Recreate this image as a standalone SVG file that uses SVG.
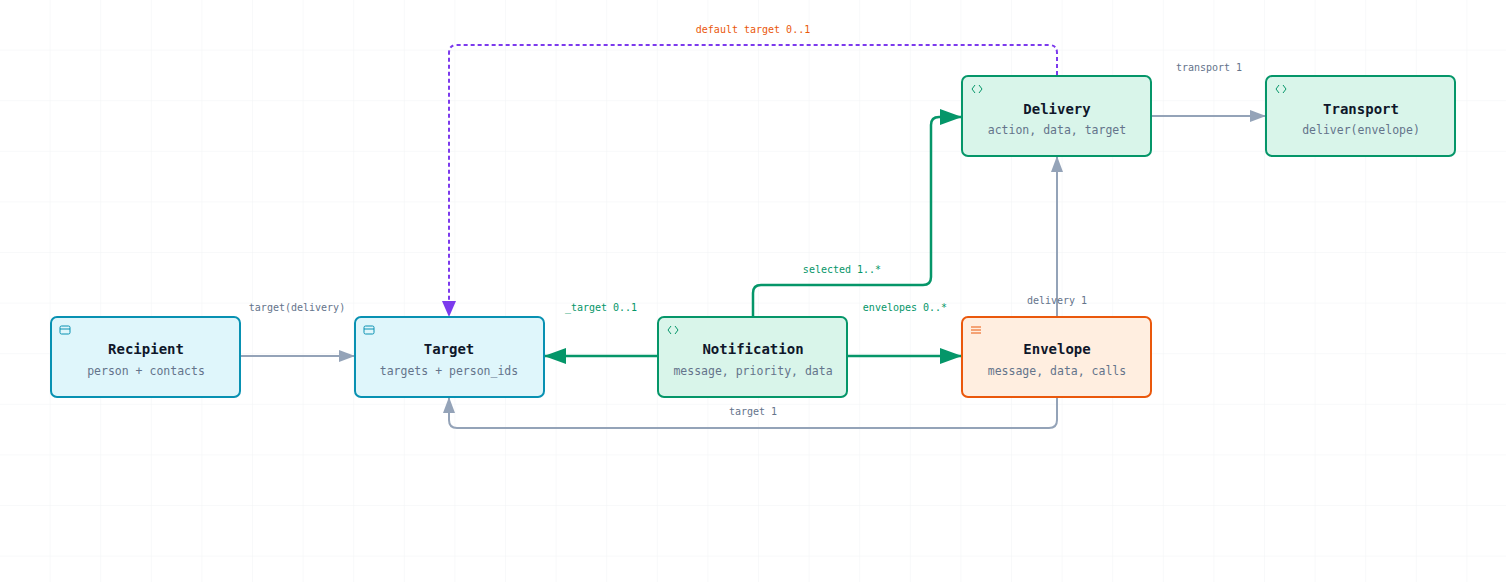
<svg xmlns="http://www.w3.org/2000/svg" width="1506" height="582" viewBox="0 0 1506 582">
<defs>
<pattern id="grid" width="50.6" height="50.6" patternUnits="userSpaceOnUse"><path d="M50.6 0V50.6M0 50.6H50.6" fill="none" stroke="#f1f3f5" stroke-width="1"/></pattern>
<marker id="ag" markerWidth="16" markerHeight="12" refX="15" refY="6" orient="auto" markerUnits="userSpaceOnUse"><path d="M0 0L16 6L0 12Z" fill="#94a3b8"/></marker>
<marker id="agr" markerWidth="22" markerHeight="16" refX="21" refY="8" orient="auto" markerUnits="userSpaceOnUse"><path d="M0 0L22 8L0 16Z" fill="#059669"/></marker>
<marker id="ap" markerWidth="16" markerHeight="14" refX="15" refY="7" orient="auto" markerUnits="userSpaceOnUse"><path d="M0 0L16 7L0 14Z" fill="#7c3aed"/></marker>
</defs>
<style>
.t{font-family:"DejaVu Sans Mono","Liberation Mono",monospace;font-weight:bold;font-size:14px;fill:#0f172a;text-anchor:middle}
.s{font-family:"DejaVu Sans Mono","Liberation Mono",monospace;font-size:11.5px;fill:#64748b;text-anchor:middle}
.l{font-family:"DejaVu Sans Mono","Liberation Mono",monospace;font-size:10px;fill:#64748b;text-anchor:middle}
.cy rect.b{fill:#dff6fb;stroke:#0891b2;stroke-width:2}
.gr rect.b{fill:#d9f5ea;stroke:#059669;stroke-width:2}
.or rect.b{fill:#ffeee0;stroke:#ea580c;stroke-width:2}
</style>
<rect width="1506" height="582" fill="#fff"/>
<rect width="1506" height="582" fill="url(#grid)"/>
<g id="connectors" fill="none">
<path d="M241 356H354" stroke="#94a3b8" stroke-width="2" marker-end="url(#ag)"/>
<path d="M658 356H545" stroke="#059669" stroke-width="2.5" marker-end="url(#agr)"/>
<path d="M848 356H961" stroke="#059669" stroke-width="2.5" marker-end="url(#agr)"/>
<path d="M753 316V293Q753 285 761 285H923Q931 285 931 277V125Q931 117 939 117H961" stroke="#059669" stroke-width="2.5" marker-end="url(#agr)"/>
<path d="M1057 316V157" stroke="#94a3b8" stroke-width="2" marker-end="url(#ag)"/>
<path d="M1152 116H1265" stroke="#94a3b8" stroke-width="2" marker-end="url(#ag)"/>
<path d="M1057 398V420Q1057 428 1049 428H457Q449 428 449 420V398" stroke="#94a3b8" stroke-width="2" marker-end="url(#ag)"/>
<path d="M1057 75V53Q1057 45 1049 45H457Q449 45 449 53V316" stroke="#7c3aed" stroke-width="2" stroke-dasharray="4 3" marker-end="url(#ap)"/>
<text class="l" x="297" y="311">target(delivery)</text>
<text class="l" x="601" y="311" style="fill:#059669">_target 0..1</text>
<text class="l" x="905" y="311" style="fill:#059669">envelopes 0..*</text>
<text class="l" x="842" y="273" style="fill:#059669">selected 1..*</text>
<text class="l" x="1057" y="304">delivery 1</text>
<text class="l" x="753" y="415">target 1</text>
<text class="l" x="1209" y="71">transport 1</text>
<text class="l" x="753" y="33" style="fill:#ea580c">default target 0..1</text>
</g>
<g id="recipient" class="cy"><rect class="b" x="51" y="317" width="189" height="80" rx="6"/><rect x="60" y="326" width="10" height="8" rx="1.5" fill="none" stroke="#0891b2"/><path d="M60 329H70" stroke="#0891b2"/><text class="t" x="146" y="354">Recipient</text><text class="s" x="146" y="375">person + contacts</text></g>
<g id="target" class="cy"><rect class="b" x="355" y="317" width="189" height="80" rx="6"/><rect x="364" y="326" width="10" height="8" rx="1.5" fill="none" stroke="#0891b2"/><path d="M364 329H374" stroke="#0891b2"/><text class="t" x="449" y="354">Target</text><text class="s" x="449" y="375">targets + person_ids</text></g>
<g id="notification" class="gr"><rect class="b" x="658" y="317" width="189" height="80" rx="6"/><path d="M671 326L668 330L671 334M675 326L678 330L675 334" fill="none" stroke="#059669"/><text class="t" x="753" y="354">Notification</text><text class="s" x="753" y="375">message, priority, data</text></g>
<g id="envelope" class="or"><rect class="b" x="962" y="317" width="189" height="80" rx="6"/><path d="M971 327H981M971 330H981M971 333H981" stroke="#ea580c"/><text class="t" x="1057" y="354">Envelope</text><text class="s" x="1057" y="375">message, data, calls</text></g>
<g id="delivery" class="gr"><rect class="b" x="962" y="76" width="189" height="80" rx="6"/><path d="M975 85L972 89L975 93M979 85L982 89L979 93" fill="none" stroke="#059669"/><text class="t" x="1057" y="114">Delivery</text><text class="s" x="1057" y="134">action, data, target</text></g>
<g id="transport" class="gr"><rect class="b" x="1266" y="76" width="189" height="80" rx="6"/><path d="M1279 85L1276 89L1279 93M1283 85L1286 89L1283 93" fill="none" stroke="#059669"/><text class="t" x="1361" y="114">Transport</text><text class="s" x="1361" y="134">deliver(envelope)</text></g>
</svg>
